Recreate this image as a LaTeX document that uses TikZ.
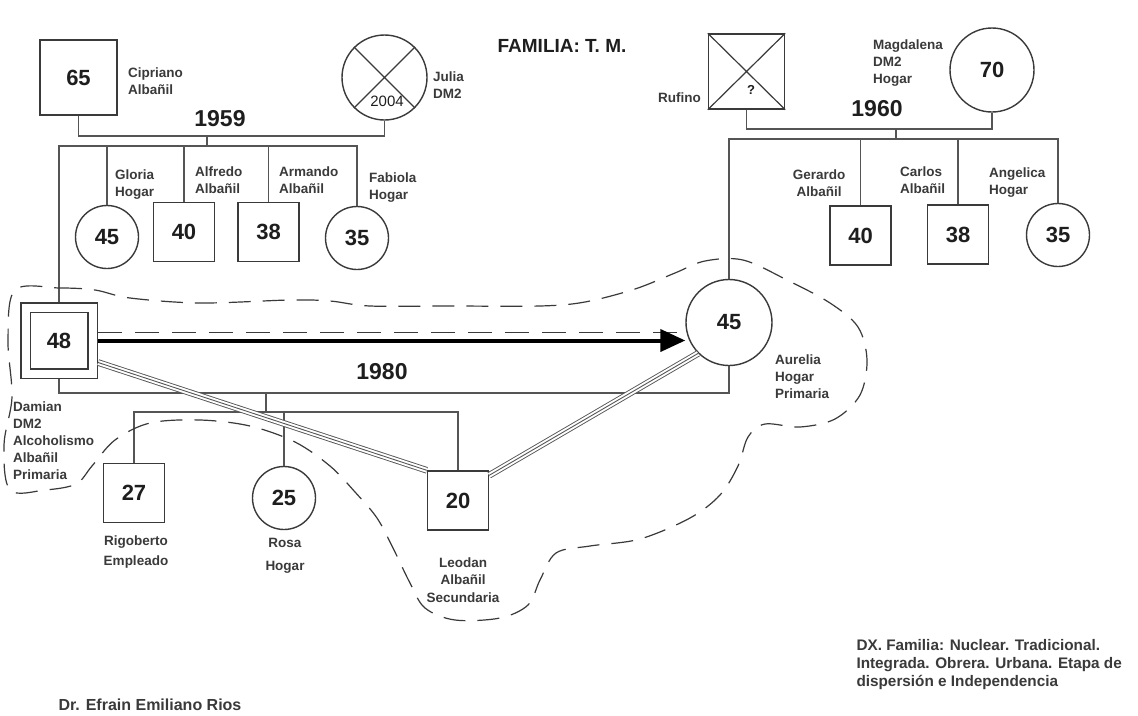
\documentclass[tikz,border=0pt]{standalone}
\usepackage{fontspec}
\setmainfont{Liberation Sans}
\usepackage{xcolor}
\usepackage{tikz}
\usetikzlibrary{positioning, arrows.meta, calc}
\definecolor{lineGray}{HTML}{3A3A3A}
\definecolor{famGray}{HTML}{555555}
\definecolor{lblText}{HTML}{3A3A3A}
\definecolor{numText}{HTML}{1E1E1E}

\begin{document}
\begin{tikzpicture}[x=1pt, y=-1pt,
  male/.style={rectangle, draw=lineGray, line width=1.4pt, minimum width=61pt,
               minimum height=59pt, inner sep=0pt, text=numText,
               font=\fontsize{22}{22}\selectfont\bfseries},
  female/.style={circle, draw=lineGray, line width=1.4pt, minimum size=63pt,
                 inner sep=0pt, text=numText, font=\fontsize{22}{22}\selectfont\bfseries},
  lbl/.style={align=left, inner sep=0pt, text=lblText,
              font=\fontsize{13.5}{17}\selectfont\bfseries},
  yr/.style={text=numText, font=\fontsize{23}{23}\selectfont\bfseries},
  famline/.style={draw=famGray, line width=1.3pt},
  xline/.style={draw=lineGray, line width=1.2pt},
  bond/.style={draw=famGray, line width=0.9pt,
               preaction={draw=famGray, line width=6.6pt},
               preaction={draw=white, line width=4.8pt}},
  heavy/.style={draw=black, line width=4pt, -{Triangle[length=25pt, width=22pt]}},
  dashline/.style={draw=lineGray, line width=1.3pt, dash pattern=on 24pt off 13pt},
  cloud/.style={draw=lineGray, line width=1.2pt, dash pattern=on 22pt off 12pt},
]
  \fill[white] (0,0) rectangle (1138,715);
  \useasboundingbox (0,0) rectangle (1138,715);

  \node[text=numText, font=\fontsize{19}{19}\selectfont\bfseries] (ttl) at (562,46) {FAMILIA: T. M.};

  % left parents
  \node[male, minimum width=77pt, minimum height=75pt] (cip) at (78.5,77.5) {65};
  \node[female, minimum size=85pt] (jul) at (384.5,77.5) {};
  \draw[xline] (jul.north west) -- (jul.south east) (jul.north east) -- (jul.south west);
  \node[text=numText, font=\fontsize{15}{15}\selectfont] (jdate) at (387,101) {2004};
  \node[lbl, anchor=west] (cipl) at (128,81) {Cipriano\\Albañil};
  \node[lbl, anchor=west] (jull) at (433,85) {Julia\\DM2};
  \node[yr] (y59) at (220,119) {1959};
  \coordinate (m59) at (207,136);
  \coordinate (k59) at (207,146);

  \node[female] (glo) at (107,237) {45};
  \node[male]   (alf) at (184,232) {40};
  \node[male]   (arm) at (268.5,232) {38};
  \node[female] (fab) at (357,238) {35};
  \node[lbl, anchor=west] (glol) at (115,185) {Gloria\\Hogar};
  \node[lbl, anchor=west] (alfl) at (195,180) {Alfredo\\Albañil};
  \node[lbl, anchor=west] (arml) at (279,180) {Armando\\Albañil};
  \node[lbl, anchor=west] (fabl) at (369,188) {Fabiola\\Hogar};

  % right parents
  \node[male, minimum width=76pt, minimum height=75pt] (ruf) at (746.5,71.5) {};
  \draw[xline] (ruf.north west) -- (ruf.south east) (ruf.north east) -- (ruf.south west);
  \node[text=numText, font=\fontsize{13}{13}\selectfont\bfseries] (rq) at (751,90) {?};
  \node[female, minimum size=84pt] (mag) at (992,70) {70};
  \node[lbl, anchor=east] (rufl) at (701,98) {Rufino};
  \node[lbl, anchor=west] (magl) at (873,63) {Magdalena\\DM2\\Hogar};
  \node[yr] (y60) at (877,109) {1960};
  \coordinate (m60) at (896,129);
  \coordinate (k60) at (896,139);

  \node[male]   (ger) at (860.5,235.5) {40};
  \node[male]   (car) at (958,234.5) {38};
  \node[female] (ang) at (1058,235) {35};
  \node[lbl, align=center] (gerl) at (819,183) {Gerardo\\Albañil};
  \node[lbl, anchor=west] (carl) at (900,180) {Carlos\\Albañil};
  \node[lbl, anchor=west] (angl) at (989,183) {Angelica\\Hogar};

  % couple
  \node[male, minimum width=67pt, minimum height=66pt, line width=1.2pt,
        double=white, double distance=8pt] (dam) at (59,340.5) {48};
  \node[female, minimum size=86pt] (aur) at (729,322.5) {45};
  \node[lbl, anchor=west] (daml) at (13,441) {Damian\\DM2\\Alcoholismo\\Albañil\\Primaria};
  \node[lbl, anchor=west] (aurl) at (775,377) {Aurelia\\Hogar\\Primaria};
  \node[yr] (y80) at (382,372) {1980};
  \coordinate (m80) at (266,393);
  \coordinate (k80) at (266,412);

  \node[male]   (rig) at (134,493) {27};
  \node[female] (ros) at (284,498) {25};
  \node[male]   (leo) at (458,500.5) {20};
  \node[lbl, align=center, font=\fontsize{13.5}{20}\selectfont\bfseries] (rigl) at (136,552) {Rigoberto\\Empleado};
  \node[lbl, align=center, font=\fontsize{13.5}{23}\selectfont\bfseries] (rosl) at (285,555.5) {Rosa\\Hogar};
  \node[lbl, align=center, font=\fontsize{13.5}{17.5}\selectfont\bfseries] (leol) at (463,580) {Leodan\\Albañil\\Secundaria};

  % family lines
  \draw[famline] (cip.south) |- (m59) -| (jul.south);
  \draw[famline] (m59) -- (k59);
  \draw[famline] ([yshift=5pt]dam.north) |- (k59) -| (fab.north);
  \foreach \c in {glo, alf, arm}
    \draw[famline] (\c.north) -- (\c.north |- k59);

  \draw[famline] (ruf.south) |- (m60) -| (mag.south);
  \draw[famline] (m60) -- (k60);
  \draw[famline] (aur.north) |- (k60) -| (ang.north);
  \foreach \c in {ger, car}
    \draw[famline] (\c.north) -- (\c.north |- k60);

  \draw[famline] ([yshift=-5pt]dam.south) |- (m80) -| (aur.south);
  \draw[famline] (m80) -- (k80);
  \draw[famline] (rig.north) |- (k80) -| (leo.north);
  \draw[famline] (ros.north) -- (ros.north |- k80);

  % relations
  \draw[dashline] ([xshift=5pt, yshift=8pt]dam.east) -- ([yshift=8pt]dam.east -| aur.west);
  \draw[heavy] ([xshift=5pt]dam.east) -- (dam.east -| aur.west);
  \draw[bond] ([xshift=5pt, yshift=-22pt]dam.east) -- (leo.north west);
  \draw[bond] ([yshift=-5pt]leo.north east) -- (aur.south west);

  % household
  \draw[cloud] plot[smooth cycle, tension=0.55] coordinates {
    (15,290) (60,288) (95,290) (130,298) (200,303) (290,300) (330,301) (370,306)
    (450,306) (540,306) (585,302) (635,289) (675,273) (705,261) (743,260) (787,280)
    (830,303) (858,327) (867,360) (860,395) (835,419) (800,427) (765,424) (748,437)
    (738,466) (720,495) (690,518) (640,539) (590,546) (556,553) (540,580) (528,605)
    (500,618) (455,620) (425,608) (410,583) (393,548) (377,518) (355,492) (330,466)
    (295,442) (250,426) (200,420) (150,423) (115,440) (92,466) (76,484) (45,490)
    (10,490) (4,445) (12,397) (8,340)};

  \node[anchor=west, align=left, text=lblText, font=\fontsize{15.3}{18}\selectfont\bfseries] (dx)
    at (853,665) {DX. Familia: Nuclear. Tradicional.\\Integrada. Obrera. Urbana. Etapa de\\dispersión e Independencia};
  \node[anchor=west, text=lblText, font=\fontsize{16}{16}\selectfont\bfseries] (dr)
    at (55,705) {Dr. Efrain Emiliano Rios};
\end{tikzpicture}
\end{document}
